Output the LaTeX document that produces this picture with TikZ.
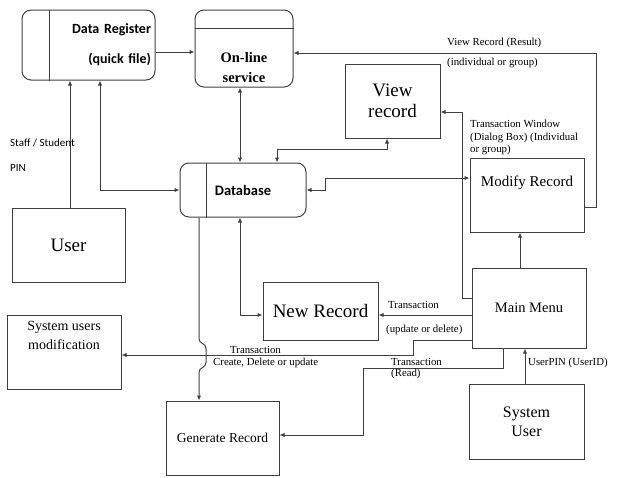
\documentclass[tikz,border=0pt]{standalone}
\usepackage{fontspec}
\setmainfont{Liberation Serif}
\newfontfamily\calibri{Carlito}
\usetikzlibrary{arrows.meta}

\begin{document}
\begin{tikzpicture}[x=1pt,y=1pt,yscale=-1,xscale=1,
  box/.style={draw=black!75,line width=1pt,inner sep=0pt,align=center},
  store/.style={box,rounded corners=9pt},
  conn/.style={draw=black!75,line width=1pt,-{Latex[length=5pt,width=4.5pt]}},
  conn2/.style={conn,{Latex[length=5pt,width=4.5pt]}-{Latex[length=5pt,width=4.5pt]}},
  lbl/.style={anchor=west,inner sep=0pt,font=\fontsize{10.8}{12.5}\selectfont,align=left}]
\useasboundingbox (0,0) rectangle (619,477);

%Shape: Data store [id:dreg]
\node[store,text width=125,inner xsep=4pt,minimum height=70,align=right,font=\calibri\bfseries\fontsize{14}{16}\selectfont] (dreg) at (88.5,45) {Data Register\\[14pt](quick file)};
\draw[draw=black!75,line width=1pt] ([xshift=28pt]dreg.north west) -- ([xshift=28pt]dreg.south west);
%Shape: Process [id:online]
\node[store,minimum width=98,minimum height=77,label={[yshift=-19.5pt,align=center,font=\bfseries\fontsize{14.5}{20}\selectfont]center:On-line\\service}] (online) at (244,48.5) {};
\draw[draw=black!75,line width=1pt] ([yshift=19pt]online.north west) -- ([yshift=19pt]online.north east);
%Shape: Data store [id:db]
\node[store,minimum width=126,minimum height=54,font=\calibri\bfseries\fontsize{14.5}{16}\selectfont] (db) at (243,190) {Database};
\draw[draw=black!75,line width=1pt] ([xshift=27pt]db.north west) -- ([xshift=27pt]db.south west);
%Shape: Rectangle [id:view]
\node[box,minimum width=95,minimum height=74,font=\fontsize{19}{21}\selectfont] (view) at (392.5,101) {View\\record};
%Shape: Rectangle [id:modify]
\node[box,minimum width=114,minimum height=74,label={[yshift=12pt,font=\fontsize{15}{18}\selectfont]center:Modify Record}] (modify) at (527,195) {};
%Shape: Rectangle [id:user]
\node[box,minimum width=113,minimum height=74,font=\fontsize{19}{21}\selectfont] (user) at (68.5,245) {User};
%Shape: Rectangle [id:newrec]
\node[box,minimum width=115,minimum height=58,font=\fontsize{19}{21}\selectfont] (newrec) at (320.5,311) {New Record};
%Shape: Rectangle [id:mainmenu]
\node[box,minimum width=114,minimum height=80,font=\fontsize{14.5}{17}\selectfont] (mainmenu) at (529,308) {Main Menu};
%Shape: Rectangle [id:sysmod]
\node[box,minimum width=114,minimum height=74,label={[yshift=17pt,align=center,font=\fontsize{14}{19}\selectfont]center:System users\\modification}] (sysmod) at (64,352) {};
%Shape: Rectangle [id:gen]
\node[box,minimum width=113,minimum height=74,font=\fontsize{13.5}{16}\selectfont] (gen) at (222.5,438) {Generate Record};
%Shape: Rectangle [id:sysuser]
\node[box,minimum width=115,minimum height=75,font=\fontsize{16}{19}\selectfont] (sysuser) at (526.5,421.5) {System\\User};

\coordinate (vr) at (596,53);
\coordinate (vw) at (462,112);
\coordinate (dm) at (325,190);
\coordinate (sm) at (413,355);
\coordinate (gr) at (363,368);

%Straight Lines [id:dreg-online]
\draw[conn] ([yshift=7pt]dreg.east) -- ([yshift=7pt]dreg.east -| online.west);
%Straight Lines [id:modify-online]
\draw[conn] ([yshift=12pt]modify.east) -| (vr) -- (vr -| online.east);
%Straight Lines [id:online-db]
\draw[conn2] ([xshift=-4pt]online.south) -- ([xshift=-4pt]online.south |- db.north);
%Straight Lines [id:db-view]
\draw[conn2] ([xshift=34pt]db.north) -- ++(0,-13) -| ([xshift=-5.5pt]view.south);
%Straight Lines [id:db-modify]
\draw[conn2] (db.east) -- (dm) |- ([yshift=-17pt]modify.west);
%Straight Lines [id:dreg-db]
\draw[conn2] ([xshift=11.5pt]dreg.south) |- (db.west);
%Straight Lines [id:user-dreg]
\draw[conn] ([xshift=1.5pt]user.north) -- ([xshift=1.5pt]user.north |- dreg.south);
%Straight Lines [id:db-gen]
\draw[conn] ([xshift=-44pt]db.south) -- ++(0,121) .. controls +(0,6) and +(0,-6) .. ++(7,10) -- ++(0,14) .. controls +(0,6) and +(0,-6) .. ++(-7,10) -- ([xshift=-23.5pt]gen.north);
%Straight Lines [id:db-newrec]
\draw[conn2] ([xshift=-3pt]db.south) |- ([yshift=4pt]newrec.west);
%Straight Lines [id:mainmenu-newrec]
\draw[conn] ([yshift=7pt]mainmenu.west) -- ([yshift=4pt]newrec.east);
%Straight Lines [id:mainmenu-view]
\draw[conn] ([yshift=-10pt]mainmenu.west) -| (vw) -- ([yshift=11pt]view.east);
%Straight Lines [id:mainmenu-modify]
\draw[conn] ([xshift=-9pt]mainmenu.north) -- ([xshift=-9pt]mainmenu.north |- modify.south);
%Straight Lines [id:mainmenu-sysmod]
\draw[conn] ([yshift=32pt]mainmenu.west) -| (sm) -- (sm -| sysmod.east);
%Straight Lines [id:mainmenu-gen]
\draw[conn] ([xshift=-26pt]mainmenu.south) |- (gr) |- ([yshift=-3pt]gen.east);
%Straight Lines [id:sysuser-mainmenu]
\draw[conn] ([xshift=-1.5pt]sysuser.north) -- ([xshift=-1.5pt]sysuser.north |- mainmenu.south);

% Text Node
\node[lbl] (t1) at (447,43) {View Record (Result)};
% Text Node
\node[lbl] (t2) at (447,63) {(individual or group)};
% Text Node
\node[lbl,anchor=north west] (t3) at (470,120) {Transaction Window\\(Dialog Box) (Individual\\or group)};
% Text Node
\node[lbl,font=\calibri\fontsize{11}{12}\selectfont] (t4) at (10,143) {Staff / Student};
% Text Node
\node[lbl,font=\calibri\fontsize{11}{12}\selectfont] (t5) at (10,168) {PIN};
% Text Node
\node[lbl] (t6) at (388,305) {Transaction};
% Text Node
\node[lbl] (t7) at (386,330) {(update or delete)};
% Text Node
\node[lbl] (t8) at (230,350) {Transaction};
% Text Node
\node[lbl] (t9) at (213,363) {Create, Delete or update};
% Text Node
\node[lbl] (t10) at (391,362) {Transaction};
% Text Node
\node[lbl] (t11) at (391,374) {(Read)};
% Text Node
\node[lbl] (t12) at (528,363) {UserPIN (UserID)};
\end{tikzpicture}
\end{document}
